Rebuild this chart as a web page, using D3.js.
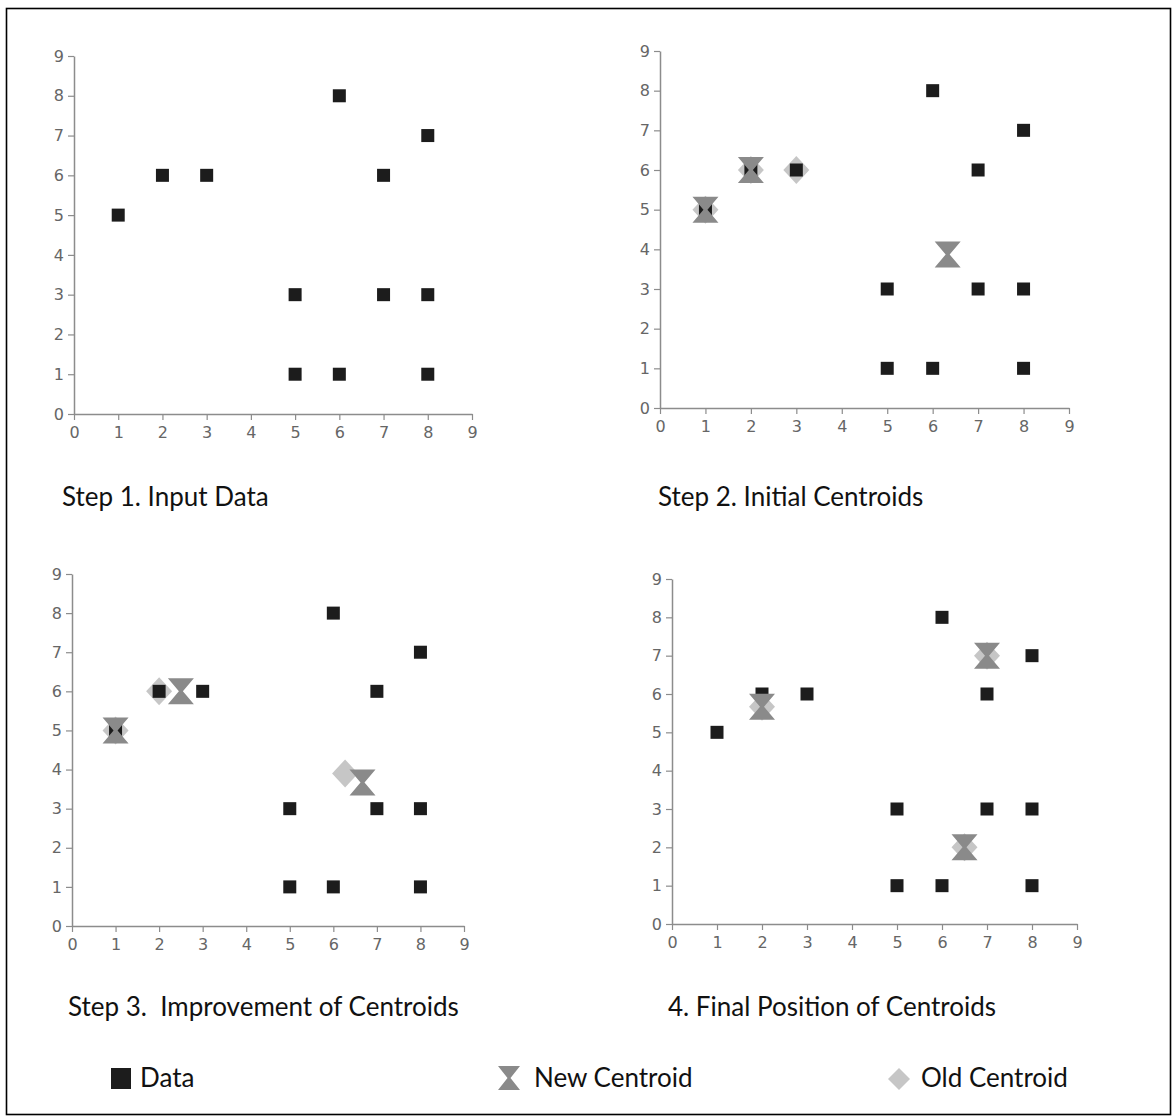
<!DOCTYPE html>
<html>
<head>
<meta charset="utf-8">
<script src="https://cdn.jsdelivr.net/npm/d3@7"></script>
<style>
  html, body { margin: 0; padding: 0; background: #fff; }
  svg { display: block; }
  text.title { white-space: pre; }
</style>
</head>
<body>
<svg id="chart" width="1173" height="1117"></svg>
<script>
// ---------- data ----------
const dataX = [1, 2, 3, 5, 5, 6, 6, 7, 7, 8, 8, 8];
const dataY = [5, 6, 6, 3, 1, 8, 1, 6, 3, 7, 3, 1];

const panelTitles = [
  "Step 1. Input Data",
  "Step 2. Initial Centroids",
  "Step 3.  Improvement of Centroids",
  "4. Final Position of Centroids"
];

// centroids per panel
const newCentroidX = [[], [1, 2, 6.33], [1, 2.5, 6.67], [2, 7, 6.5]];
const newCentroidY = [[], [5, 6, 3.87], [5, 6, 3.67], [5.67, 7, 2]];
const oldCentroidX = [[], [1, 2, 3], [1, 2, 6.27], [2, 7, 6.5]];
const oldCentroidY = [[], [5, 6, 6], [5, 6, 3.9], [5.67, 7, 2]];

const tickValues = [0, 1, 2, 3, 4, 5, 6, 7, 8, 9];
const legendLabels = ["Data", "New Centroid", "Old Centroid"];

// ---------- layout ----------
const panels = [
  { x0: 74,  x1: 472,  y0: 414, y1: 56,  tx: 62,  ty: 506 },
  { x0: 660, x1: 1069, y0: 408, y1: 51,  tx: 658, ty: 506 },
  { x0: 72,  x1: 464,  y0: 926, y1: 574, tx: 68,  ty: 1016 },
  { x0: 672, x1: 1077, y0: 924, y1: 579, tx: 668, ty: 1016 }
];

const colSquare = "#1c1c1c";
const colNew = "#8a8a8a";
const colOld = "#c6c6c6";
const axisCol = "#8c8c8c";
const labelCol = "#666666";
const titleFont = "Lato, 'Open Sans', sans-serif";
const titleSize = "26px";

const svg = d3.select("#chart");

// outer border
svg.append("rect")
  .attr("x", 6.5).attr("y", 8.5)
  .attr("width", 1164).attr("height", 1106)
  .attr("fill", "none").attr("stroke", "#000").attr("stroke-width", 1.6);

function hourglass(w, h, waist) {
  const p = [[-w/2, -h/2], [w/2, -h/2], [waist, 0], [w/2, h/2], [-w/2, h/2], [-waist, 0]];
  return "M" + p.map(d => d.join(",")).join("L") + "Z";
}
function diamond(w, h) {
  return `M0,${-h/2}L${w/2},0L0,${h/2}L${-w/2},0Z`;
}

panels.forEach((p, i) => {
  const x = d3.scaleLinear().domain([0, 9]).range([p.x0, p.x1]);
  const y = d3.scaleLinear().domain([0, 9]).range([p.y0, p.y1]);
  const g = svg.append("g");

  const xAxis = g.append("g")
    .attr("transform", `translate(0,${p.y0})`)
    .call(d3.axisBottom(x).tickValues(tickValues).tickSize(6).tickPadding(7).tickSizeOuter(0));
  const yAxis = g.append("g")
    .attr("transform", `translate(${p.x0},0)`)
    .call(d3.axisLeft(y).tickValues(tickValues).tickSize(6).tickPadding(4).tickSizeOuter(0));
  [xAxis, yAxis].forEach(a => {
    a.attr("font-size", null).attr("font-family", null);
    a.select(".domain").attr("stroke", axisCol).attr("stroke-width", 1.5);
    a.selectAll(".tick line").attr("stroke", axisCol).attr("stroke-width", 1.2);
    a.selectAll(".tick text")
      .attr("fill", labelCol)
      .style("font-family", "'DejaVu Sans', sans-serif")
      .style("font-size", "16px");
  });

  // old centroids (diamonds) - bottom layer
  const oc = oldCentroidX[i].map((v, k) => ({ x: v, y: oldCentroidY[i][k] }));
  g.selectAll(".old").data(oc).enter().append("path")
    .attr("d", diamond(26, 28))
    .attr("transform", d => `translate(${x(d.x)},${y(d.y)})`)
    .attr("fill", colOld);

  // data squares
  const pts = dataX.map((v, k) => ({ x: v, y: dataY[k] }));
  g.selectAll(".pt").data(pts).enter().append("rect")
    .attr("x", d => x(d.x) - 6.5)
    .attr("y", d => y(d.y) - 6.5)
    .attr("width", 13).attr("height", 13)
    .attr("fill", colSquare);

  // new centroids (hourglass)
  const nc = newCentroidX[i].map((v, k) => ({ x: v, y: newCentroidY[i][k] }));
  g.selectAll(".new").data(nc).enter().append("path")
    .attr("d", hourglass(26, 26, 2))
    .attr("transform", d => `translate(${x(d.x)},${y(d.y)})`)
    .attr("fill", colNew);

  // title
  svg.append("text")
    .attr("class", "title")
    .attr("x", p.tx).attr("y", p.ty)
    .attr("fill", "#111")
    .style("font-family", titleFont)
    .style("font-size", titleSize)
    .text(panelTitles[i]);
});

// ---------- legend ----------
const legY = 1078;
const lg = svg.append("g");
lg.append("rect").attr("x", 111).attr("y", legY - 10).attr("width", 20).attr("height", 21).attr("fill", colSquare);
lg.append("path").attr("d", hourglass(22, 24, 1.5)).attr("transform", `translate(509,${legY})`).attr("fill", colNew);
lg.append("path").attr("d", diamond(22, 22)).attr("transform", `translate(899,${legY + 1})`).attr("fill", colOld);
const legX = [140, 534, 921];
legendLabels.forEach((t, k) => {
  lg.append("text")
    .attr("class", "title")
    .attr("x", legX[k]).attr("y", legY + 9)
    .attr("fill", "#111")
    .style("font-family", titleFont)
    .style("font-size", titleSize)
    .text(t);
});
</script>
</body>
</html>
